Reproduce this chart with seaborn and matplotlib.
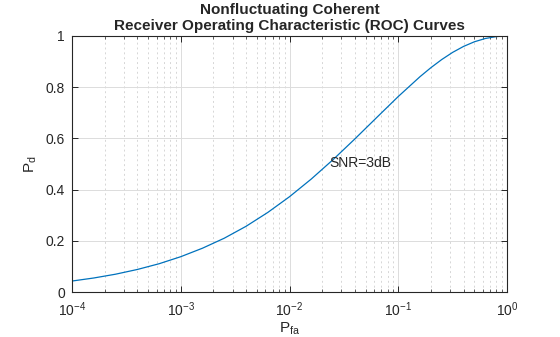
import numpy as np
import pandas as pd
import matplotlib
matplotlib.use("Agg")
import matplotlib.pyplot as plt
import seaborn as sns
from matplotlib.ticker import LogLocator, NullFormatter

pfa = [1e-4, 1.585e-4, 2.512e-4, 3.981e-4, 6.310e-4, 1e-3, 1.585e-3, 2.512e-3,
       3.981e-3, 6.310e-3, 1e-2, 1.585e-2, 2.512e-2, 3.981e-2, 6.310e-2, 0.1,
       0.1585, 0.1995, 0.2512, 0.3162, 0.3981, 0.5012, 0.6310, 0.7943, 0.8913, 1.0]
pd_vals = [0.0428, 0.0547, 0.0695, 0.0879, 0.1103, 0.1379, 0.1711, 0.2101,
           0.2565, 0.3107, 0.3722, 0.4412, 0.5168, 0.5975, 0.6808, 0.7636,
           0.8411, 0.8762, 0.9081, 0.9360, 0.9592, 0.9774, 0.9902, 0.9976, 0.9994, 1.0]
label_text = "SNR=3dB"
label_x = 0.0231
label_y = 0.504

df = pd.DataFrame({"Pfa": pfa, "Pd": pd_vals})

sns.set_theme(style="white")
plt.rcParams['font.family'] = ['Liberation Sans', 'DejaVu Sans']
plt.rcParams['mathtext.fontset'] = 'custom'
plt.rcParams['mathtext.rm'] = 'Liberation Sans'
plt.rcParams['mathtext.it'] = 'Liberation Sans'

fig = plt.figure(figsize=(5.6, 3.37), dpi=100)
ax = fig.add_axes([72/560, 45/337, 435/560, 256/337])

sns.lineplot(data=df, x="Pfa", y="Pd", ax=ax, color="#0072BD", linewidth=0.9)
ax.set_xscale("log")
ax.set_xlim(1e-4, 1)
ax.set_ylim(0, 1)

ax.set_xticks([1e-4, 1e-3, 1e-2, 1e-1, 1])
ax.set_xticklabels([r"$10^{-4}$", r"$10^{-3}$", r"$10^{-2}$", r"$10^{-1}$", r"$10^{0}$"])
ax.xaxis.set_minor_locator(LogLocator(base=10, subs=np.arange(2, 10), numticks=20))
ax.xaxis.set_minor_formatter(NullFormatter())
ax.set_yticks([0, 0.2, 0.4, 0.6, 0.8, 1])
ax.set_yticklabels(["0", "0.2", "0.4", "0.6", "0.8", "1"])

ax.grid(True, which="major", axis="both", color="#dcdcdc", linewidth=0.7, linestyle="-")
ax.grid(True, which="minor", axis="x", color="#d6d6d6", linewidth=0.7, linestyle=(0, (2, 3)))
ax.set_axisbelow(True)

for s in ax.spines.values():
    s.set_color("#262626")
    s.set_linewidth(0.8)
    s.set_visible(True)

ax.tick_params(which="major", direction="in", length=4, width=0.7, colors="#262626",
               labelsize=10, top=True, right=True, bottom=True, left=True)
ax.tick_params(axis="x", which="major", pad=6)
ax.tick_params(axis="y", which="major", pad=5)
ax.tick_params(which="minor", direction="in", length=2, width=0.5, colors="#262626",
               top=True, bottom=True)
for lab in ax.get_xticklabels() + ax.get_yticklabels():
    lab.set_color("#262626")

ax.set_xlabel(r"P$_{\mathrm{fa}}$", fontsize=11, color="#262626", labelpad=1)
ax.set_ylabel(r"P$_{\mathrm{d}}$", fontsize=11, color="#262626", labelpad=5)
ax.set_title("Nonfluctuating Coherent\nReceiver Operating Characteristic (ROC) Curves",
             fontsize=11, fontweight="bold", color="#262626", pad=4, linespacing=1.2)

ax.text(label_x, label_y, label_text, fontsize=10, color="#262626", ha="left", va="center")

fig.savefig("out.png", dpi=100)
